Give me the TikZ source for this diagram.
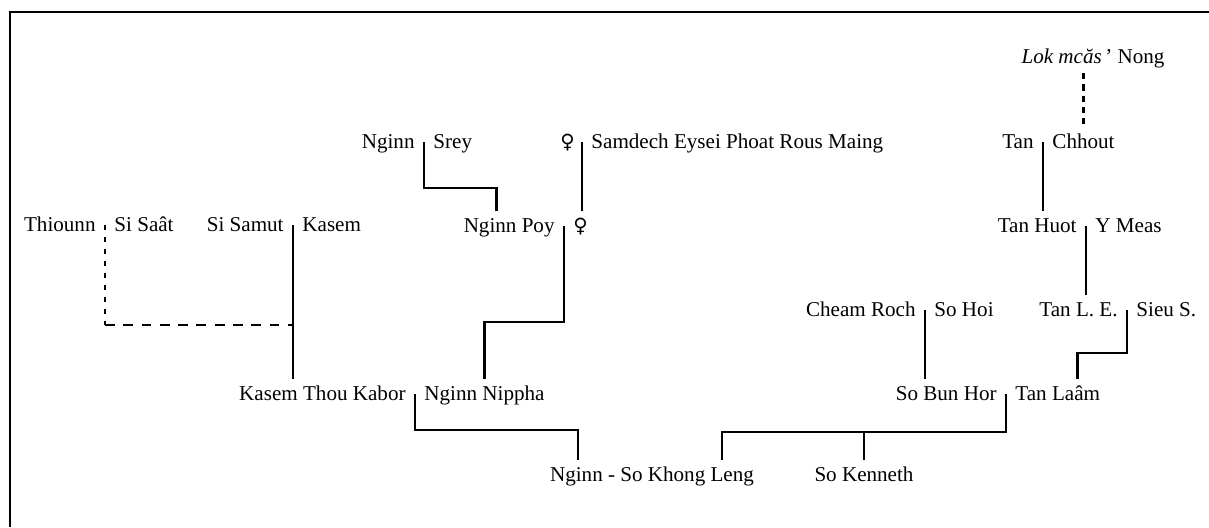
\documentclass[tikz,border=0pt]{standalone}
\usepackage{fontspec}
\setmainfont{Liberation Serif}
\newfontfamily\femfont{DejaVu Sans}
\usepackage{tikz}
\usetikzlibrary{positioning,calc}
\tikzset{
  pname/.style={inner xsep=0pt, inner ysep=4pt, text height=10.5pt, text depth=3pt,
                font=\fontsize{15}{18}\selectfont},
  fem/.style={pname, font=\fontsize{14}{18}\femfont},
  kin/.style={line width=1.9pt},
  kinlink/.style={line width=1.9pt, dash pattern=on 4.5pt off 3.5pt},
  kinmarr/.style={line width=1.9pt, dash pattern=on 7pt off 6pt},
  kindots/.style={line width=1.9pt, dash pattern=on 3.5pt off 5pt},
}

\begin{document}
\begin{tikzpicture}[x=0.025cm, y=-0.025cm, node distance=6.5pt]
    \useasboundingbox (0,0) rectangle (1209,527);
    \draw[line width=1.4pt] (10,527) -- (10,12) -- (1209,12);

    % first row
    \node[pname, anchor=base] (lok) at (1093,63) {\textit{Lok mcăs}\,’ Nong};
    \coordinate (mSrey) at (424,148);
    \node[pname, base left=of mSrey] (nginnS) {Nginn};
    \node[pname, base right=of mSrey] (srey) {Srey};
    \coordinate (mMaing) at (582,148);
    \node[fem, base left=5pt of mMaing] (fem1) {♀};
    \node[pname, base right=of mMaing] (maing) {Samdech Eysei Phoat Rous Maing};
    \coordinate (mTan) at (1043,148);
    \node[pname, base left=of mTan] (tan) {Tan};
    \node[pname, base right=of mTan] (chhout) {Chhout};

    % second row
    \coordinate (mThi) at (105,231);
    \node[pname, base left=of mThi] (thiounn) {Thiounn};
    \node[pname, base right=of mThi] (sisaat) {Si Saât};
    \coordinate (mSamut) at (293,231);
    \node[pname, base left=of mSamut] (samut) {Si Samut};
    \node[pname, base right=of mSamut] (kasem) {Kasem};
    \coordinate (mPoy) at (564,232);
    \node[pname, base left=of mPoy] (poy) {Nginn Poy};
    \node[fem, base right=of mPoy] (fem2) {♀};
    \coordinate (mHuot) at (1086,232);
    \node[pname, base left=of mHuot] (huot) {Tan Huot};
    \node[pname, base right=of mHuot] (meas) {Y Meas};

    % third row
    \coordinate (mRoch) at (925,316);
    \node[pname, base left=of mRoch] (roch) {Cheam Roch};
    \node[pname, base right=of mRoch] (sohoi) {So Hoi};
    \coordinate (mTanle) at (1127,316);
    \node[pname, base left=of mTanle] (tanle) {Tan L. E.};
    \node[pname, base right=of mTanle] (sieu) {Sieu S.};

    % fourth row
    \coordinate (mKabor) at (415,400);
    \node[pname, base left=of mKabor] (kabor) {Kasem Thou Kabor};
    \node[pname, base right=of mKabor] (nippha) {Nginn Nippha};
    \coordinate (mBunhor) at (1006,400);
    \node[pname, base left=of mBunhor] (bunhor) {So Bun Hor};
    \node[pname, base right=of mBunhor] (laam) {Tan Laâm};

    % last row
    \node[pname, anchor=base] (khong) at (652,481) {Nginn - So Khong Leng};
    \node[pname, anchor=base] (kenneth) at (864,481) {So Kenneth};

    % lines of descent
    \draw[kinlink] (lok.south -| chhout.north) -- (chhout.north);
    \draw[kin] ([yshift=4.2pt]mTan) -- (mTan |- huot.north);
    \draw[kin] ([yshift=4.2pt]mHuot) -- (mHuot |- tanle.north);
    \draw[kin] ([yshift=4.2pt]mTanle) -- ++(0,43) -| ($(laam.north)+(20,0)$);
    \draw[kin] ([yshift=4.2pt]mRoch) -- (mRoch |- bunhor.north);
    \draw[kin] ([yshift=4.2pt]mBunhor) -- ++(0,38) coordinate (jSo) -| ($(khong.north)+(70,0)$);
    \draw[kin] (jSo -| kenneth.north) -- (kenneth.north);
    \draw[kin] ([yshift=4.2pt]mKabor) -- ++(0,36) -| ($(khong.north)+(-74,0)$);
    \draw[kin] ([yshift=4.2pt]mSamut) -- (mSamut |- kabor.north);
    \draw[kindots] ([yshift=4.2pt]mThi) -- ++(0,100) coordinate (jThi);
    \draw[kinmarr] (jThi) -- (jThi -| mSamut);
    \draw[kin] ([yshift=4.2pt]mPoy) -- ++(0,96) -| (nippha.north);
    \draw[kin] ([yshift=4.2pt]mSrey) -- ++(0,46) -| ($(poy.north)+(-13,0)$);
    \draw[kin] ([yshift=4.2pt]mMaing) -- (mMaing |- fem2.north);
\end{tikzpicture}
\end{document}
